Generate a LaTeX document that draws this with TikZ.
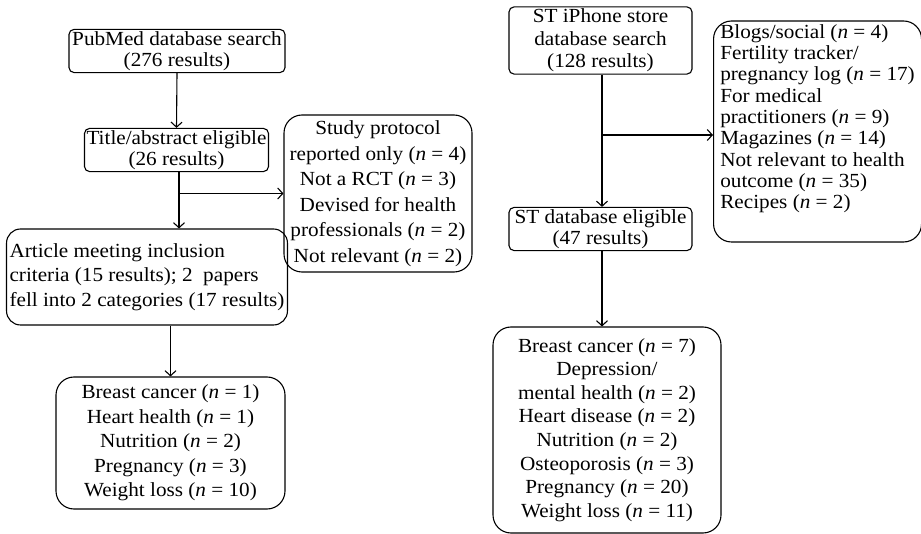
\documentclass[tikz,border=0pt]{standalone}
\usepackage{fontspec}
\setmainfont[FakeStretch=1.06]{Liberation Serif}
\usetikzlibrary{arrows.meta}
\newcommand{\nval}[1]{(\textit{n} = #1)}
\begin{document}
\begin{tikzpicture}[x=1pt,y=-1pt,
  box/.style={draw, rounded corners=5pt, line width=1.1pt, align=center, inner sep=2pt},
  bigbox/.style={draw, rounded corners=18pt, line width=1.1pt, inner sep=3pt},
  conn/.style={line width=1.1pt},
  arr/.style={conn, -{Straight Barb[length=5pt,width=11pt]}},
  fs/.style={font=\fontsize{20}{#1}\selectfont}
]
\useasboundingbox (0,0) rectangle (921,534);

% ---------- left column ----------
\node[box, fs=21, minimum width=216, minimum height=42] (pub) at (177,51)
  {PubMed database search\\(276 results)};
\node[box, fs=21, minimum width=183, minimum height=42] (title) at (176.5,150)
  {Title/abstract eligible\\(26 results)};
\node[bigbox, fs=25.5, align=center, minimum width=188, minimum height=157] (excl) at (378,193.5)
  {Study protocol\\reported only \nval{4}\\Not a RCT \nval{3}\\Devised for health\\professionals \nval{2}\\Not relevant \nval{2}};
\node[bigbox, rounded corners=14pt, fs=24.5, align=left, minimum width=276, minimum height=96] (art) at (147,277)
  {Article meeting inclusion\\criteria (15 results); 2~ papers\\fell into 2 categories (17 results)};
\node[bigbox, fs=24.5, align=center, minimum width=229, minimum height=132] (out) at (170.5,443)
  {Breast cancer \nval{1}\\Heart health \nval{1}\\Nutrition \nval{2}\\Pregnancy \nval{3}\\Weight loss \nval{10}};

\draw[arr] (pub.south) -- (title.north);
\coordinate (tb) at ([xshift=2.5pt]title.south);
\draw[arr] (tb) -- (tb |- art.north);
\draw[arr] (tb |- excl.west) -- (excl.west);
\draw[arr] (out.north |- art.south) -- (out.north);

% ---------- right column ----------
\node[box, fs=22.5, minimum width=183, minimum height=65] (st) at (600.5,40.5)
  {ST iPhone store\\database search\\(128 results)};
\node[box, fs=21, minimum width=183, minimum height=42] (stel) at (600.5,229)
  {ST database eligible\\(47 results)};
\node[bigbox, fs=21.3, align=left, anchor=west, inner xsep=4pt, inner ysep=1pt, text depth=30pt,
      minimum width=208, minimum height=221] (stx) at (713,131.5)
  {Blogs/social \nval{4}\\Fertility tracker/\\pregnancy log \nval{17}\\For medical\\practitioners \nval{9}\\Magazines \nval{14}\\Not relevant to health\\outcome \nval{35}\\Recipes \nval{2}};
\node[bigbox, fs=23.6, align=center, minimum width=228, minimum height=206] (sto) at (607,430)
  {Breast cancer \nval{7}\\Depression/\\mental health \nval{2}\\Heart disease \nval{2}\\Nutrition \nval{2}\\Osteoporosis \nval{3}\\Pregnancy \nval{20}\\Weight loss \nval{11}};

\coordinate (sb) at ([xshift=1.5pt]st.south);
\draw[arr] (sb) -- (sb |- stel.north);
\draw[arr] (sb |- 0,135) -- (stx.west |- 0,135);
\draw[arr] ([xshift=1.5pt]stel.south) -- ([xshift=1.5pt]stel.south |- sto.north);
\end{tikzpicture}
\end{document}
